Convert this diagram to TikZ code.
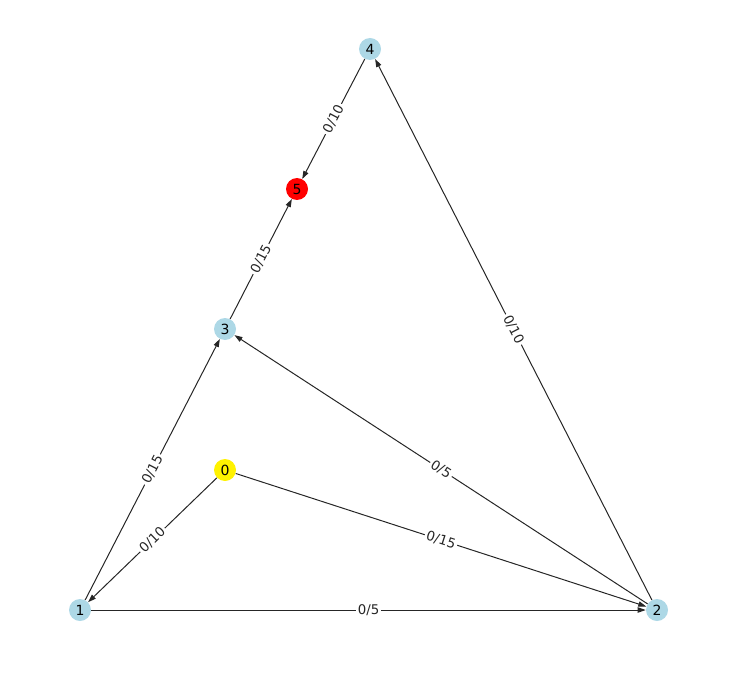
\documentclass[tikz,border=0pt]{standalone}
\usepackage{fontspec}
\setmainfont{DejaVu Sans}
\usepackage{xcolor}
\usetikzlibrary{arrows.meta}
\definecolor{nodeblue}{RGB}{173,216,230}

\begin{document}
\begin{tikzpicture}[x=0.75pt,y=-0.75pt,
      nd/.style={circle,fill=nodeblue,minimum size=16.5pt,inner sep=0pt,font=\fontsize{10.5}{12}\selectfont},
      ed/.style={-{Triangle[length=6pt,width=4pt]},line width=0.75pt,black!85},
      lbl/.style={sloped,fill=white,inner sep=1.5pt,font=\fontsize{10}{12}\selectfont}]
    \useasboundingbox (0,0) rectangle (741,677);
    % nodes
    \node[nd] (n4) at (370,49) {4};
    \node[nd,fill=red] (n5) at (297,189) {5};
    \node[nd] (n3) at (225,329) {3};
    \node[nd,fill=yellow] (n0) at (225,470) {0};
    \node[nd] (n1) at (80,610) {1};
    \node[nd] (n2) at (657,610) {2};
    % edges, flow/capacity on each
    \draw[ed] (n4) -- node[lbl] {0/10} (n5);
    \draw[ed] (n3) -- node[lbl] {0/15} (n5);
    \draw[ed] (n1) -- node[lbl] {0/15} (n3);
    \draw[ed] (n0) -- node[lbl] {0/10} (n1);
    \draw[ed] (n0) -- node[lbl] {0/15} (n2);
    \draw[ed] (n2) -- node[lbl] {0/5} (n3);
    \draw[ed] (n2) -- node[lbl] {0/10} (n4);
    \draw[ed] (n1) -- node[lbl] {0/5} (n2);
\end{tikzpicture}
\end{document}
